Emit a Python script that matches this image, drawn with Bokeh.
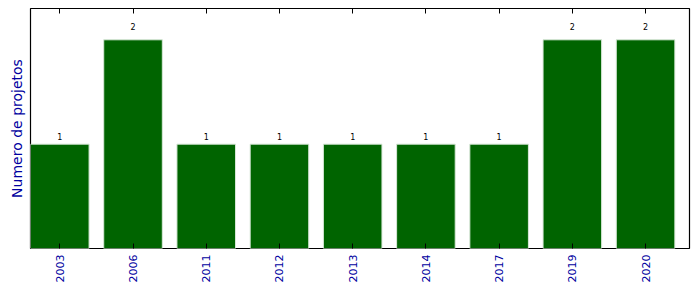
import math
from bokeh.plotting import figure
from bokeh.models import Range1d, FixedTicker, LinearAxis, ColumnDataSource
from bokeh.core.properties import value
from bokeh.embed import file_html
from bokeh.resources import INLINE

years = ["2003", "2006", "2011", "2012", "2013", "2014", "2017", "2019", "2020"]
counts = [1, 2, 1, 1, 1, 1, 1, 2, 2]

xs = list(range(len(years)))
src = ColumnDataSource(dict(x=xs, top=counts, ly=[c * 1.05 for c in counts],
                            label=[str(c) for c in counts]))

p = figure(width=699, height=292, output_backend="svg", toolbar_location=None,
           x_range=Range1d(-0.4, len(years) - 0.4), y_range=Range1d(0, 2.3),
           min_border_left=30, min_border_right=10, min_border_top=8, min_border_bottom=44,
           x_axis_location=None, y_axis_location=None)
p.grid.visible = False
p.outline_line_color = "black"
p.outline_line_width = 1.2
p.background_fill_color = "white"
p.border_fill_color = "white"

p.vbar(x="x", top="top", width=0.8, bottom=0, source=src,
       fill_color="#006400", line_color="#d8e8d8", line_width=1)

p.text(x="x", y="ly", text="label", source=src, text_align="center",
       text_baseline="bottom", y_offset=1, text_font_size="8px",
       text_color="black", text_font=value("DejaVu Sans"))

blue = "#0000a0"
fmt = {i: y for i, y in enumerate(years)}
xb = LinearAxis(ticker=FixedTicker(ticks=xs), major_label_overrides=fmt)
xb.major_tick_in = 5
xb.major_tick_out = 0
xb.minor_tick_line_color = None
xb.axis_line_color = None
xb.major_label_orientation = math.pi / 2
xb.major_label_standoff = 6
xb.major_label_text_color = blue
xb.major_label_text_font = "DejaVu Sans"
xb.major_label_text_font_size = "11px"
p.add_layout(xb, "below")

xt = LinearAxis(ticker=FixedTicker(ticks=xs), major_label_text_font_size="0px")
xt.major_tick_in = 5
xt.major_tick_out = 0
xt.minor_tick_line_color = None
xt.axis_line_color = None
xt.major_label_text_color = None
p.add_layout(xt, "above")

yl = LinearAxis(ticker=FixedTicker(ticks=[]), axis_label="Numero de projetos")
yl.axis_line_color = None
yl.major_tick_line_color = None
yl.minor_tick_line_color = None
yl.major_label_text_font_size = "0px"
yl.axis_label_text_color = blue
yl.axis_label_text_font = "DejaVu Sans"
yl.axis_label_text_font_size = "14px"
yl.axis_label_text_font_style = "normal"
yl.axis_label_standoff = 6
p.add_layout(yl, "left")

open("out.html", "w").write(file_html(p, INLINE))
